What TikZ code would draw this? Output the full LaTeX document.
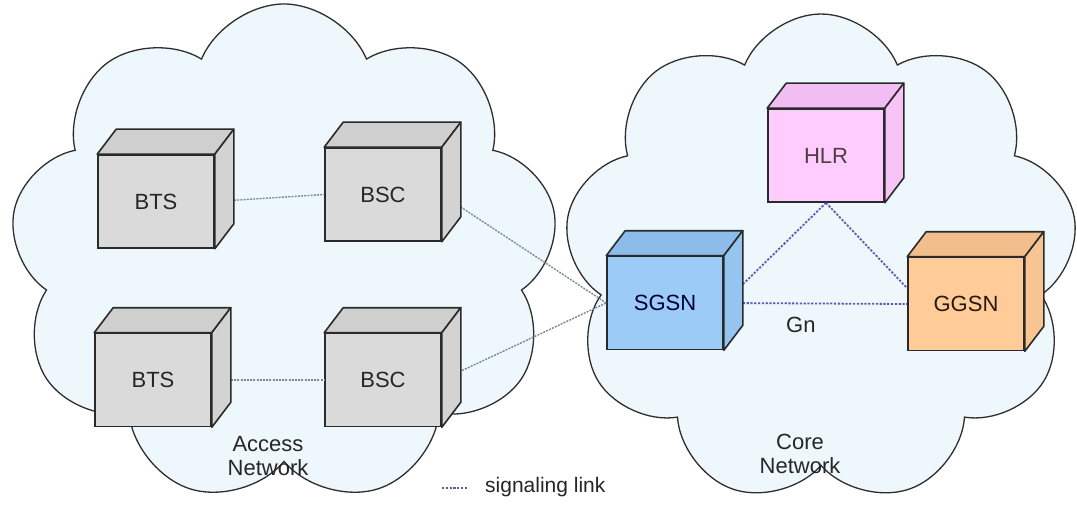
\documentclass[tikz,border=0pt]{standalone}
\usepackage{fontspec}
\setmainfont{Liberation Sans}
\usetikzlibrary{shapes.symbols,calc}
\definecolor{cloudfill}{HTML}{EEF7FC}
\definecolor{cloudline}{HTML}{2E2E2E}
\definecolor{boxline}{HTML}{2A2A2A}
\definecolor{grayF}{HTML}{DADADA}
\definecolor{grayT}{HTML}{CFCFCF}
\definecolor{grayS}{HTML}{D3D3D3}
\definecolor{blueF}{HTML}{9CCBF7}
\definecolor{blueT}{HTML}{8DBCEA}
\definecolor{blueS}{HTML}{95C4F0}
\definecolor{pinkF}{HTML}{FFCCFF}
\definecolor{pinkT}{HTML}{F2BDF2}
\definecolor{pinkS}{HTML}{F8C4F8}
\definecolor{orgF}{HTML}{FFCB99}
\definecolor{orgT}{HTML}{F2BE8C}
\definecolor{orgS}{HTML}{F8C592}
\definecolor{accline}{HTML}{7A8898}
\definecolor{sigline}{HTML}{5A5AB0}
\definecolor{txt}{HTML}{262626}
\newcommand\cubefaces[3]{%
  \draw[faceline, fill=#2] (#1.north west) -- ++(19,-25) -- ($(#1.north east)+(19,-25)$) -- (#1.north east) -- cycle;
  \draw[faceline, fill=#3] (#1.north east) -- ++(19,-25) -- ($(#1.south east)+(19,-25)$) -- (#1.south east) -- cycle;
}
\begin{document}
\begin{tikzpicture}[x=1pt,y=-1pt,
  cloudbox/.style={cloud, draw=cloudline, line width=1.3pt, fill=cloudfill, cloud puffs=9, cloud puff arc=135, inner sep=0pt},
  frontbox/.style={draw=boxline, line width=1.6pt, minimum width=116pt, minimum height=93pt, inner sep=0pt, text=txt, font=\fontsize{22}{26}\selectfont},
  faceline/.style={draw=boxline, line width=1.6pt, line join=round},
  acclink/.style={draw=accline, line width=1.4pt, dash pattern=on 2pt off 1.2pt},
  siglink/.style={draw=sigline, line width=1.8pt, dash pattern=on 2.2pt off 1.6pt},
  lbl/.style={text=txt, font=\fontsize{22}{26}\selectfont, align=center, inner sep=0pt}
]
\useasboundingbox (0,0) rectangle (1077,508);
\fill[white] (0,0) rectangle (1077,508);
% clouds
\node[cloudbox, minimum width=548pt, minimum height=500pt, shape border rotate=10] (acloud) at (284,254) {};
\node[cloudbox, minimum width=514pt, minimum height=490pt, shape border rotate=-8] (ccloud) at (821,259) {};
% front faces
\node[frontbox, fill=grayF] (bts1) at (156,201.5) {BTS};
\node[frontbox, fill=grayF] (bsc1) at (383,194.5) {BSC};
\node[frontbox, fill=grayF] (bts2) at (153,380) {BTS};
\node[frontbox, fill=grayF] (bsc2) at (383,380) {BSC};
\node[frontbox, fill=blueF, text=black!80!blue] (sgsn) at (665,303) {SGSN};
\node[frontbox, fill=pinkF, text=black!80!magenta] (hlr) at (826,155.5) {HLR};
\node[frontbox, fill=orgF, text=black!80!brown] (ggsn) at (966,304) {GGSN};
% connectors
\draw[acclink] (bts1.east) -- (bsc1.west);
\draw[acclink] (bts2.east) -- (bsc2.west);
\draw[acclink] (bsc1.east) -- (sgsn.west);
\draw[acclink] (bsc2.east) -- (sgsn.west);
\draw[siglink] (hlr.south) -- (sgsn.east);
\draw[siglink] (hlr.south) -- (ggsn.165);
\draw[siglink] (sgsn.east) -- node[lbl, pos=0.42, below=13pt] (gn) {Gn} (ggsn.west);
% cube faces
\cubefaces{bts1}{grayT}{grayS}
\cubefaces{bsc1}{grayT}{grayS}
\cubefaces{bts2}{grayT}{grayS}
\cubefaces{bsc2}{grayT}{grayS}
\cubefaces{sgsn}{blueT}{blueS}
\cubefaces{hlr}{pinkT}{pinkS}
\cubefaces{ggsn}{orgT}{orgS}
% labels
\node[lbl] (acc) at (268,456) {Access\\[-2pt]Network};
\node[lbl] (core) at (800,454) {Core\\[-2pt]Network};
% legend
\coordinate (lega) at (442,488);
\coordinate (legb) at (467,488);
\draw[siglink, line width=1.5pt] (lega) -- (legb);
\node[lbl, anchor=west, font=\fontsize{21}{24}\selectfont] (legt) at (485,487) {signaling link};
\end{tikzpicture}
\end{document}
